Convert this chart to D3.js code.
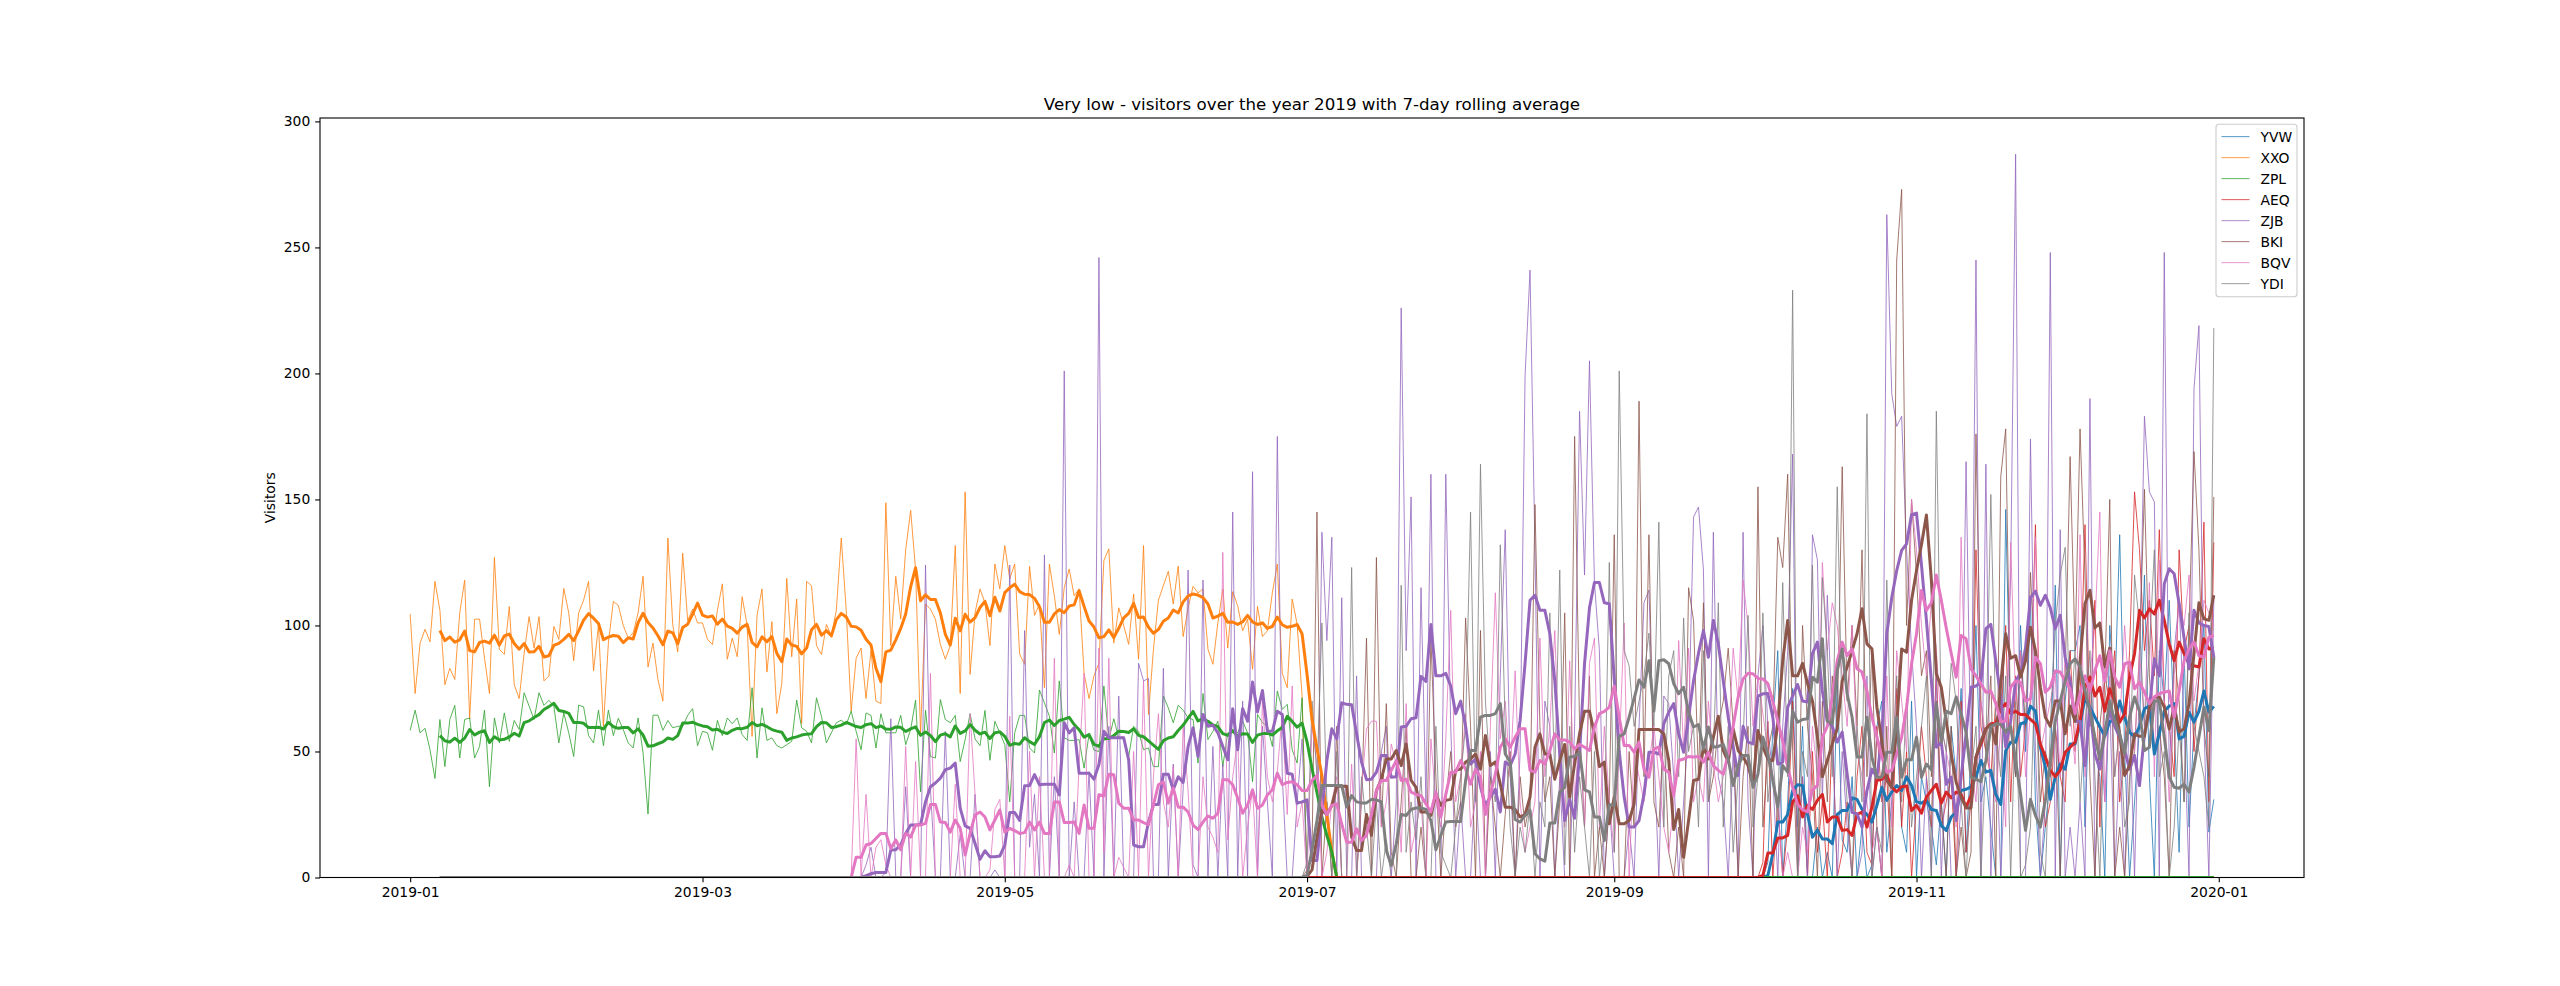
<!DOCTYPE html>
<html><head><meta charset="utf-8">
<script src="https://cdnjs.cloudflare.com/ajax/libs/d3/7.8.5/d3.min.js"></script>
<style>html,body{margin:0;padding:0;background:#fff}svg{display:block}text{font-family:"DejaVu Sans",sans-serif;fill:#000}</style>
</head><body><svg id="c" width="2560" height="986"></svg>
<script>
const names=["YVW","XXO","ZPL","AEQ","ZJB","BKI","BQV","YDI"];
const colors=["#1f77b4","#ff7f0e","#2ca02c","#d62728","#9467bd","#8c564b","#e377c2","#7f7f7f"];
const titleText="Very low - visitors over the year 2019 with 7-day rolling average";
const yTicks=[0,50,100,150,200,250,300];
const xTicks=["2019-01-01","2019-03-01","2019-05-01","2019-07-01","2019-09-01","2019-11-01","2020-01-01"];
const days=365;

// daily visitors, each list starts at the day of year given in starts
const rawXXO=[104.5,73,93,98.5,93.5,117.5,106,76.5,83,78.6,105,118,63,102.5,102.5,87,73,127,90.5,88.5,107.5,76.5,71,89,103.5,91,103.5,78,80,99.6,94.5,114.7,105,86,105,110,117.5,82,100,60,93,109.5,108,100,95,97,105,119.5,83.5,93,78.6,70,134.7,100,89.5,128.7,102,106.5,101,101,94.5,92.4,106,116.5,86.6,95,87.6,111.4,100,56,104,114.5,81.5,101.5,65,77,118.7,87.6,110.5,61,117.5,115.8,92,88.5,100.4,96,106,134.7,106,66,87,91,71,90,70,69,148.7,92,119.5,102.5,130,145.7,122,57,108.5,106.5,102.5,92.5,86.6,92,131.7,73,153,80.6,105,114.5,109,92,124.4,114.5,131.7,118.5,124.4,88.6,84.6,123.5,104,108.5,75.3,124.4,111.8,96.5,115,122.4,111.8,114.5,81,71,80,85,125.8,130.4,93,107,100,92.5,112.5,86.6,131.7,64.7,90.6,110,115.8,121.5,108.5,123.5,95.6,107,115.5,112.9,114.5,90.6,84.6,101,114.5,91,113.4,107.8,97.9,102.5,82.6,107.6,95.6,97.9,113,124.4,81,75.3,110.5,100.5,72];
const rawZPL=[58.4,66.4,57.4,59.2,50.7,39.3,62.7,44,62.7,68.3,47.4,62.7,63.3,47.4,52,66.4,36,63.3,53.4,65.3,54,62.3,58.7,73.3,68,62.7,73.3,68.3,70.3,68,53.4,65.3,57.4,48,68.4,67.7,56.3,53.4,66.4,52.3,66.4,56.3,63.2,58.7,53.4,51.4,63.3,49.4,25.2,64.4,64.4,58.4,62.3,59.4,60,60,64.3,67,52.3,58,57.4,50.5,62.3,56.3,63.3,61,63.3,56.7,54.4,75.3,47.4,67.3,54.4,55.4,52.3,51.4,52.7,54,70.4,59.4,58,53.4,71.3,64,53.4,57.4,61.4,62.4,60.7,66,58,50.7,65.3,64.3,51.4,65,57.4,57.4,57.4,64.3,52.7,58.7,70.4,34,66.4,48,47.4,70.6,62.7,61.4,64.3,46,54.7,65,55,52.3,66.3,46.5,62,57.4,52.7,30,57.4,64.3,64.3,51.4,49.4,74.4,69.3,64,49.4,78,55.4,54.4,54.4,54.7,43.4,56.7,50.5,50,76,54.7,63,55.4,55.8,48,60,58,50.7,51.4,44,44,72,67.3,61.4,68.3,66.4,63.3,62.7,45.4,73,54.7,58,62,44,57.4,58.7,57.4,62,57.4,38,64.7,61.4,60,52,74,66.7,68.7,50.7,45.4,71.3];
const rawYVW=[6,60,90,0,30,75,20,60,0,0,20,0,10,0,80,15,10,40,0,20,0,5,60,70,10,30,60,20,10,70,0,40,30,20,5,30,0,60,40,75,10,50,100,30,40,20,0,0,146,60,40,100,50,110,30,0,20,40,116,0,70,90,90,100,20,80,50,40,0,100,70,136,50,0,30,60,120,40,0,90,70,110,60,10,90,20,60,80,100,18,31];
const rawAEQ=[6,62,0,30,0,20,70,10,40,0,50,10,30,0,60,0,10,30,0,40,60,10,5,60,30,40,0,75,20,50,0,30,60,40,20,85,20,30,40,0,70,10,30,130,60,50,40,70,60,100,30,80,40,60,70,140,50,20,30,60,40,30,90,50,70,140,60,110,20,80,70,90,30,50,90,153,130,90,110,80,138,70,60,40,130,90,100,50,80,141,30,133];
const rawZJB=[0,0,5,12,0,0,2,63,0,0,36,0,0,0,124,35,0,0,58,0,0,17,0,0,33,0,0,0,3,0,0,124,0,0,98,12,33,0,128,0,40,0,201,0,30,0,0,42,0,246,0,60,0,72,0,0,0,85,78,79,0,0,83,0,45,0,35,122,5,0,118,0,52,0,45,0,145,0,70,0,161,0,60,30,0,175,40,0,0,30,55,0,0,0,137,94,135,0,111,0,0,80,0,0,0,0,50,60,0,30,226,90,151,0,115,30,160,0,0,160,60,0,30,0,0,40,0,0,50,0,80,138,40,0,50,199,241,130,0,70,60,0,40,0,0,60,185,120,205,117,90,0,30,0,0,0,20,0,60,109,114,50,0,72,69,40,0,30,60,143,147,122,0,137,40,30,0,50,0,137,30,0,80,100,60,40,0,60,90,168,0,40,0,136,126,30,112,60,0,50,20,0,0,10,80,0,20,0,263,192,179,183,130,90,60,0,40,0,80,0,50,0,0,30,165,40,245,0,164,0,60,0,50,120,287,0,0,174,50,0,30,248,0,138,0,20,0,30,0,190,0,60,30,70,0,50,0,70,0,80,183,153,149,0,248,40,90,110,60,0,194,219,60,0,110];
const rawBQV=[55,0,33,0,12,15,5,0,0,0,52,0,46,0,0,81,0,0,0,0,37,0,0,65,33,0,0,3,27,31,0,64,0,0,0,50,0,40,0,0,87,0,0,5,0,45,81,0,0,91,10,87,0,8,4,0,50,0,78,0,40,65,30,20,44,0,60,34,0,0,40,20,16,10,129,15,40,55,0,20,35,0,70,40,30,42,65,25,76,20,30,0,60,45,0,10,30,40,0,0,45,0,35,59,62,62,20,30,53,45,10,69,10,20,30,0,55,30,20,55,106,30,40,65,20,30,50,0,60,113,55,70,40,82,30,10,20,30,95,40,60,98,40,20,86,30,60,20,85,95,20,60,30,10,50,101,0,50,40,30,45,60,40,20,10,30,94,50,91,30,40,30,70,45,30,40,50,91,70,118,100,60,80,65,50,40,30,0,10,0,0,20,10,60,40,125,90,109,100,80,60,100,50,40,30,10,20,0,80,20,90,70,50,150,130,100,80,110,90,60,50,40,20,135,60,45,30,70,55,40,30,60,20,133,70,90,40,65,135,50,60,70,80,40,90,65,45,136,40,80,100,145,30,80,40,60,100,70,50,90,60,117,40,126,70,30,80,110,100,120,70,85,110,105,100];
const rawBKI=[3,10,145,0,30,0,60,0,0,0,0,30,95,0,127,20,69,10,0,30,60,0,0,20,0,95,40,0,30,50,20,30,103,60,0,98,0,40,20,0,25,50,0,40,20,30,148,60,30,40,0,30,105,0,175,60,20,80,0,20,0,30,136,0,0,50,20,189,40,136,30,20,60,10,0,20,0,115,102,40,109,30,40,60,70,91,60,0,40,60,0,155,20,50,60,135,123,160,50,0,100,60,40,0,70,30,80,60,163,70,100,60,130,40,90,20,0,60,0,245,273,100,150,120,80,90,40,70,30,0,60,0,20,0,10,176,70,50,80,0,159,178,60,40,90,60,121,80,30,50,40,60,0,80,167,90,178,120,40,0,60,80,150,0,20,0,40,50,90,154,80,50,60,40,0,90,70,30,100,169,130,60,40,151];
const rawYDI=[6,70,40,101,30,0,50,0,0,123,0,40,20,0,30,0,15,0,0,116,10,30,15,40,0,0,60,10,5,0,20,40,60,145,30,164,70,40,30,132,60,20,0,20,10,30,0,30,20,105,40,122,5,60,10,40,20,0,50,0,20,125,10,201,90,84,60,70,80,97,60,141,20,80,90,40,103,50,60,20,90,30,50,109,20,60,10,40,55,104,20,40,105,30,50,20,117,40,233,0,50,40,124,30,119,90,40,155,60,30,0,60,30,184,0,20,10,118,40,80,30,70,20,40,60,80,0,185,60,50,85,70,30,0,40,60,0,50,152,60,40,80,0,70,0,5,20,90,10,0,60,100,120,131,60,90,30,60,90,40,0,70,90,40,60,20,30,120,100,60,90,130,40,50,0,20,60,30,105,60,50,40,20,218];
const rawStarts={YVW:274,XXO:0,ZPL:0,AEQ:273,ZJB:90,BKI:181,BQV:90,YDI:181};

// 7-day rolling values
const rollYVW=[0.8,9.4,22,22,25,34.5,36.8,36.5,25,16,18.8,15.3,15.3,13.4,25,26.6,26.6,31.6,31,27,25,22,28.6,35.8,30.6,33.9,36.5,34.5,40,36.5,30,29.5,30.6,27,26.6,20.6,18.7,24,26,34.5,35,36,39.8,46.4,41.8,42.5,33,29,50.4,53.7,53.7,61,61.6,68,66,51.7,43.8,31,40,45,43,53,53,61,71,67.6,63.6,59.7,56,62,62,70,63.6,57.7,55.7,60,67,68,49,57,66,68,69,55,56,65.6,61.6,66,74,65.6,67.9];
const rollAEQ=[0.8,9.7,9.7,15.7,15.7,16.7,30,32.5,24,28.6,27,30.6,33,22,24,24,18.7,19,16.7,25,26,20,28,38.5,39,40.5,35.8,34,36,36.3,26.6,28.6,25.5,32,34.5,37,29.5,33.9,31.6,33.9,33,27.9,32.5,47.8,53,59,61,61.2,67,69,65,66,64.7,64.7,62.7,61,53,47.8,42.5,40,42.5,49.7,51.7,53.7,62,75.5,79.5,72,75.5,66,74.9,70,61.6,65,79.5,88.8,106,103,106.6,104.6,110,102,92.7,86,93.4,88.8,84.8,84,83.5,94.7,90.7,91];
const rollZJB=[0.7,1.5,2,2,2,10.9,11,13,17.5,20.8,20.8,21,30,36,37.5,39.4,42.8,43.4,45.4,27.5,20.5,19.5,13.5,7.2,10.6,8.2,8.2,8.5,12.9,25.8,25.8,22.6,36.4,36.5,40.8,36.8,37,37,37,32.8,61.4,57.4,59.4,41.4,41.4,41.4,39,44.8,58,55.4,55.4,55.4,55.4,46.7,12.9,12.2,12.2,22,29,29,41,41,34.8,40,37.7,52,59.4,48,64.7,60,60.4,57.4,52,46.7,67,50.7,67,62,77.6,65.7,74.2,58,58,66,64.7,41.4,41,29.5,30,30.8,6.7,6.7,26,46.4,59,55,69.3,68.7,68.5,57,45.8,38.8,39,41.8,48.4,48.4,39.8,40,59.7,60,63,63.4,79.8,77.8,100.4,80,80,81,76,65,70,60,45,47,36,28.6,32,35,26,45.8,44.4,49,62.3,85,110,112,106,106,96.7,78,49,22.6,30.8,23.5,49,84.8,107,117,117,109,108.6,78.8,50,31.9,20,20,22.6,33,49.7,49.7,49,61,65.6,69,57,49.7,63.6,78,89,98,87.4,102,92.7,78,63.6,51.7,40.5,60,53.7,53,72,72.9,73,63.6,45,45.8,67.6,72,76.6,70,69.6,88.8,93.4,74,62,60,53.7,57.7,41,25.9,25.3,20,34.5,43,39.8,55.7,96.7,111,121.8,129.8,132.4,144,144.6,124,102,78,51.7,53.7,37,39.8,22.6,39.8,57,75.5,76,77.5,98.7,100.4,86,71.6,51.7,62,78,81,91,111,113.6,108,112,107,98.7,104,87.4,78,62,62,44.4,67.6,49,43,58,66,60,55.7,50.4,43,48.4,36.5,57,67,86.8,80,116.5,122.5,120.5,108.6,95,82.8,106,101,100,99.6,87.4];
const rollBKI=[0.5,3,16,26.6,25,28.6,36.2,36.2,36.2,16,10.7,10.7,25,16.7,34.5,39,47,47,50.4,44.4,53,38.5,35.8,26,26,24.6,33,28.6,30.6,31,42.5,43,45.8,47,49,43,56.3,44.4,45.8,37,27.9,27.9,27,24,25,31.9,51.7,57,49,48.8,39,46.4,52.8,31.9,45,57,66,66,57,44,45.8,21.3,31.9,21.3,21.3,22.6,29,58.7,58.7,58.7,58.7,58.7,57,46.4,19,27,8,22.6,38.5,39,51.7,47,55.7,64,50.4,45.8,59,50.4,47.8,44.4,37,58.3,51.7,47,46.4,61,86,102,80,80,85,77,70,55.7,40,46.4,53,59,78,83.5,90,96.7,106.6,92.7,90.7,67.6,54,38.5,35.8,60,90.7,89.4,110,121.8,132,143.8,118,80.8,75.5,62,49,37.8,31.9,27.6,27.6,47.8,54,59,60.7,53,76.9,96.7,87,88,79.5,86,99.3,90,75.5,63.6,60,70,70,57,68,62,86,108.6,114,99,101,83.5,91,70,57,40.5,44.4,57,56,56,67.6,71.6,71.6,67.6,59,67.6,57.7,59,69,88.8,109,102.6,102,112];
const rollBQV=[8,8,12.9,13.5,15.5,17.5,17.5,11.5,14.9,11,17.5,16,20.8,20.8,21.5,29,29,22,21.8,18,22.8,19.5,8.9,17.5,24.8,26,24,18.9,22.8,26.8,18,19.5,18.6,17.5,17.8,22,18.9,22,17.5,17.5,30,30,21.8,21.8,22,17.5,28.8,19.5,19.5,32.8,32.4,41,40.8,29.5,27.5,27.5,22.8,22.8,21.8,21,28.8,36.8,38,29.5,35.5,27.9,27.9,26,20.8,19,22,24.4,23.5,25.5,38.8,38.8,36.8,31.5,25.5,28.8,34.8,27.5,28.8,32.8,34.8,41.4,36.8,37.7,38,36.8,34.5,34.5,38.5,40.5,28.6,25,28.6,29.2,21.3,14,14,19.3,14.7,16.7,25,34.5,38.5,38.5,42.5,46.4,38.5,39,33.9,33,32.5,29.2,26,33.9,24,33,41.8,41.8,46.4,43,37,43,39.8,25,33,41,51.7,55,51.7,55.7,59,59,42.5,41.8,46.4,45,50.4,57,54.6,54.6,53.7,51,52.8,51.7,50.4,59.7,65,65.9,67.6,76,63.6,52.4,52.4,49.7,53.7,43,39.8,51,51.7,43,41.8,32.5,46.4,47,48,47.8,48,45.8,49.7,44.4,42.5,41,49,60,71.6,78.8,81,80.8,79,78.8,76.9,70,62,54,43.8,35.8,29,26.9,26,34.8,36.5,55.7,60,71.6,86,93.4,88,90.7,82.8,81.5,74,63.6,55.7,47.8,41.8,42.5,49,55.7,67.6,84.8,96.7,113.9,106,109,120,110,99,89,79.5,96,94.7,82.8,80,76.9,73.5,74,69,62,62,75.5,78,77.5,70,70.9,87.4,84.8,73.5,75.5,81.9,81.5,78,74.9,65,73,80,74,82,88,78,90,79.5,75.5,84.8,85.4,74.9,77.5,73.5,69,71.6,73,73.5,74,63.6,74,86,90.7,93.4,88,87.4,95.4,96];
const rollYDI=[0.8,10.7,22.6,36.5,36.5,36.5,36.5,36.5,28,32.5,30,29.6,29.6,31,30.8,30,10.7,4.8,13.4,25,24.6,27,27.6,27.6,27,22.6,11,16.7,22,22.2,22.2,22.2,38.5,50.4,50.4,63.6,64.3,64.3,65,69,49,45.8,23,22,24.6,26.6,9.4,7.4,6.5,21.6,21.6,33.9,35.8,47.8,48,49.7,34.8,34,24,24,14.7,29,28.6,56,57,63.6,71,78.4,75.5,86,66,86,86.4,84.8,76.9,72.9,75.5,65.6,59.7,60.7,51,59.7,51.7,52,52.8,47,36.5,44.4,48.4,48.4,35.8,41,55.7,49,38.5,28,44.4,41.8,66,61.6,62.7,63,79.5,77.5,94.7,62,61,82,90.7,72.9,63.6,47.8,47.8,63.6,47.8,39.8,39.8,49.7,49.7,63.6,39.8,46.7,46.7,55.7,39.8,45,42.7,69,53.7,66,65,71.6,65,57.7,39.8,39,38,46.4,59.7,61,60.7,57.7,60,46.4,33,18.7,31,24.6,20,30.6,46.4,62,70,78,84.8,86.8,83.5,74,66,55.7,47,57,70,62,57,49,63.6,71.6,66,50.4,51.7,70,70,55.7,39.8,35.8,35.4,37,33.9,43.8,55.7,67.6,58.3,87.4];
const rollStarts={YVW:274,AEQ:273,ZJB:92,BKI:181,BQV:90,YDI:181};

const W=2560,H=986,L=320,R=2304,T=118,B=877.5;
const day0=Date.UTC(2019,0,1),dayMs=864e5;
const dateOf=i=>new Date(day0+i*dayMs);
const rawLists={YVW:rawYVW,XXO:rawXXO,ZPL:rawZPL,AEQ:rawAEQ,ZJB:rawZJB,BKI:rawBKI,BQV:rawBQV,YDI:rawYDI};
const rollLists={YVW:rollYVW,AEQ:rollAEQ,ZJB:rollZJB,BKI:rollBKI,BQV:rollBQV,YDI:rollYDI};

const place=(list,start)=>d3.range(days).map(i=>{const k=i-start;return k>=0&&k<list.length?list[k]:0;});
const raws=names.map(n=>place(rawLists[n],rawStarts[n]));
const rolls=names.map((n,s)=>{
  if(rollLists[n]){const a=place(rollLists[n],rollStarts[n]);return a.map((v,i)=>i<6?null:v);}
  return raws[s].map((v,i)=>i<6?null:d3.mean(raws[s].slice(i-6,i+1)));
});

const spanMs=(days-1)*dayMs;
const x=d3.scaleUtc().domain([new Date(day0-.05*spanMs),new Date(day0+spanMs*1.05)]).range([L,R]);
const y=d3.scaleLinear().domain([0,301.35]).range([B,T]);
const svg=d3.select("#c");
svg.append("defs").append("clipPath").attr("id","ax").append("rect").attr("x",L).attr("y",T).attr("width",R-L).attr("height",B-T);
const plot=svg.append("g").attr("clip-path","url(#ax)");
const line=d3.line().defined(d=>d!==null).x((d,i)=>x(dateOf(i))).y(d=>y(d));
raws.forEach((r,s)=>plot.append("path").attr("d",line(r)).attr("fill","none").attr("stroke",colors[s]).attr("stroke-width",1).attr("stroke-opacity",.8).attr("stroke-linejoin","round"));
rolls.forEach((r,s)=>plot.append("path").attr("d",line(r)).attr("fill","none").attr("stroke",colors[s]).attr("stroke-width",3).attr("stroke-linejoin","round"));

const ax=d3.axisBottom(x).tickValues(xTicks.map(d=>new Date(d+"T00:00:00Z"))).tickFormat(d3.utcFormat("%Y-%m")).tickSize(4.86).tickPadding(4.86);
const ay=d3.axisLeft(y).tickValues(yTicks).tickSize(4.86).tickPadding(4.86);
const gx=svg.append("g").attr("transform",`translate(0,${B})`).call(ax);
const gy=svg.append("g").attr("transform",`translate(${L},0)`).call(ay);
[gx,gy].forEach(g=>{g.select(".domain").remove();g.selectAll("line").attr("stroke","#000").attr("stroke-width",1.1);g.selectAll("text").attr("font-size",13.89).attr("font-family","DejaVu Sans").attr("fill","#000");});
svg.append("rect").attr("x",L).attr("y",T).attr("width",R-L).attr("height",B-T).attr("fill","none").attr("stroke","#000").attr("stroke-width",1.1);

svg.append("text").attr("x",(L+R)/2).attr("y",110).attr("text-anchor","middle").attr("font-size",16.67).text(titleText);
svg.append("text").attr("transform",`translate(275,${(T+B)/2}) rotate(-90)`).attr("text-anchor","middle").attr("font-size",13.89).text("Visitors");

const lg=svg.append("g");
lg.append("rect").attr("x",2216).attr("y",124.3).attr("width",81).attr("height",172.5).attr("rx",3).attr("fill","#fff").attr("fill-opacity",.8).attr("stroke","#ccc").attr("stroke-width",1.1);
names.forEach((n,s)=>{
  const yy=136.6+s*21;
  lg.append("line").attr("x1",2221.5).attr("x2",2249.5).attr("y1",yy).attr("y2",yy).attr("stroke",colors[s]).attr("stroke-width",1.1).attr("stroke-opacity",.7);
  lg.append("text").attr("x",2260.5).attr("y",yy+5).attr("font-size",13.89).text(n);
});
</script></body></html>
